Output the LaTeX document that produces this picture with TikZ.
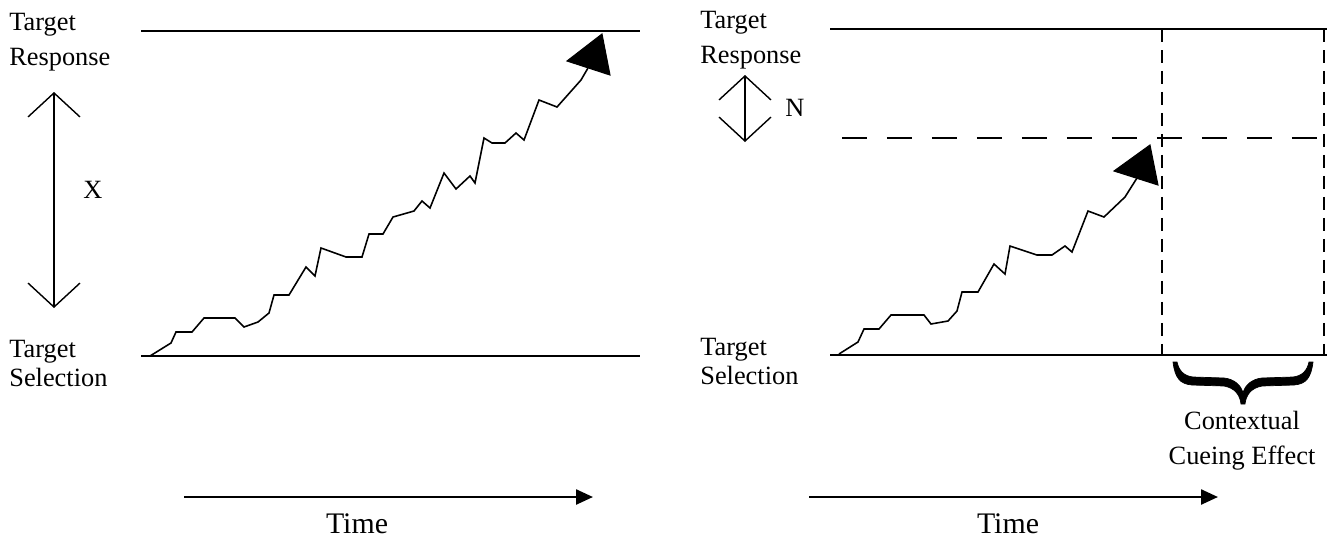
\documentclass[tikz,border=0pt]{standalone}
\usepackage{fontspec}
\setmainfont{Liberation Serif}
\usetikzlibrary{arrows.meta,positioning}

\begin{document}
\begin{tikzpicture}[
    x=0.02cm, y=-0.02cm,
    every node/.style={font=\fontsize{15}{16.5}\selectfont, inner sep=0pt},
    bound/.style={line width=1.1pt},
    walk/.style={line width=0.9pt, line join=miter},
    head/.style={fill=black, line width=0.6pt, line join=miter},
    dblarrow/.style={line width=0.8pt,
      {Straight Barb[length=0.48cm,width=1.04cm]}-{Straight Barb[length=0.48cm,width=1.04cm]}},
    timearrow/.style={line width=1.4pt, -{Triangle[length=0.34cm,width=0.3cm]}},
    critline/.style={line width=0.9pt, dash pattern=on 0.5cm off 0.4cm},
    cutline/.style={line width=0.9pt, dash pattern=on 0.26cm off 0.16cm},
    cuebrace/.style={fill=black, draw=black, line width=0.4pt},
    lbl/.style={align=left, anchor=north west},
    timelbl/.style={font=\fontsize{17}{20}\selectfont, anchor=base}
  ]

  \useasboundingbox (0,0) rectangle (1340,542);

  % Left panel: bounds ------------------------------------------
  \coordinate (respL0) at (141,31);
  \coordinate (respL1) at (640,31);
  \coordinate (selL0)  at (141,356);
  \coordinate (selL1)  at (640,356);

  \draw[bound] (respL0) -- (respL1);
  \draw[bound] (selL0) -- (selL1);

  \node[lbl] (respLtxt) at (9,13)  {Target\\[3.5pt]Response};
  \node[lbl] (selLtxt)  at (9,340) {Target\\Selection};

  % Distance X
  \coordinate (xtop) at (54,92);
  \coordinate (xbot) at (54,308);
  \draw[dblarrow] (xtop) -- (xbot);
  \node (xlbl) at (93,190) {X};

  % Left panel: accumulation ------------------------------------
  \draw[walk] (150,356) -- (171,343) -- (176,332) -- (192,332) -- (204,318)
    -- (235,318) -- (244,327) -- (258,322) -- (269,313) -- (274,295)
    -- (289,295) -- (306,267) -- (315,276) -- (321,248) -- (346,257)
    -- (362,257) -- (369,234) -- (383,234) -- (393,217) -- (414,211)
    -- (422,201) -- (430,208) -- (444,173) -- (456,189) -- (470,176)
    -- (475,183) -- (484,138) -- (492,143) -- (505,143) -- (516,133)
    -- (524,140) -- (539,100) -- (557,107) -- (581,80) -- (588,68);
  \filldraw[head] (567,61) -- (602,34) -- (610,75) -- cycle;

  % Left panel: time
  \coordinate (timeL0) at (184,497);
  \coordinate (timeL1) at (593,497);
  \draw[timearrow] (timeL0) -- (timeL1);
  \node[timelbl] (timeLtxt) at (357,533) {Time};

  % Right panel: bounds -----------------------------------------
  \coordinate (respR0) at (830,29);
  \coordinate (respR1) at (1327,29);
  \coordinate (selR0)  at (830,355);
  \coordinate (selR1)  at (1327,355);

  \draw[bound] (respR0) -- (respR1);
  \draw[bound] (selR0) -- (selR1);

  \node[lbl] (respRtxt) at (700,11)  {Target\\[3.5pt]Response};
  \node[lbl] (selRtxt)  at (700,338) {Target\\Selection};

  % Lowered threshold (distance N)
  \coordinate (crit0) at (842,138);
  \coordinate (crit1) at (1331,138);
  \draw[critline] (crit0) -- (crit1);

  \coordinate (ntop) at (745,75);
  \coordinate (nbot) at (745,142);
  \draw[dblarrow] (ntop) -- (nbot);
  \node (nlbl) at (795,108) {N};

  % Cut-off times
  \coordinate (cutA0) at (1162,29);
  \coordinate (cutA1) at (1162,355);
  \coordinate (cutB0) at (1324,29);
  \coordinate (cutB1) at (1324,355);
  \draw[cutline] (cutA0) -- (cutA1);
  \draw[cutline] (cutB0) -- (cutB1);

  % Right panel: accumulation -----------------------------------
  \draw[walk] (839,354) -- (858,342) -- (864,329) -- (879,329) -- (891,315)
    -- (924,315) -- (931,324) -- (948,321) -- (957,311) -- (962,292)
    -- (978,292) -- (994,264) -- (1005,274) -- (1010,246) -- (1037,255)
    -- (1052,255) -- (1065,246) -- (1072,252) -- (1088,211) -- (1104,217)
    -- (1125,197) -- (1137,178);
  \filldraw[head] (1114,171) -- (1150,145) -- (1158,185) -- cycle;

  % Contextual cueing effect (bold brace)
  \filldraw[cuebrace] (1173,362)
    .. controls (1175,378) and (1180,384) .. (1192,385) -- (1224,386)
    .. controls (1235,388) and (1240,395) .. (1241,404) -- (1245,404)
    .. controls (1246,395) and (1251,388) .. (1262,386) -- (1294,385)
    .. controls (1306,384) and (1311,378) .. (1313,362) -- (1309,362)
    .. controls (1307,371) and (1302,376) .. (1293,377) -- (1262,378)
    .. controls (1252,379) and (1245,385) .. (1243,393)
    .. controls (1241,385) and (1234,379) .. (1224,378) -- (1193,377)
    .. controls (1184,376) and (1179,371) .. (1177,362) -- cycle;
  \node[align=center, anchor=north] (cuetxt) at (1242,411)
    {Contextual\\[3.5pt]Cueing Effect};

  % Right panel: time
  \coordinate (timeR0) at (809,497);
  \coordinate (timeR1) at (1218,497);
  \draw[timearrow] (timeR0) -- (timeR1);
  \node[timelbl] (timeRtxt) at (1008,533) {Time};

\end{tikzpicture}
\end{document}
